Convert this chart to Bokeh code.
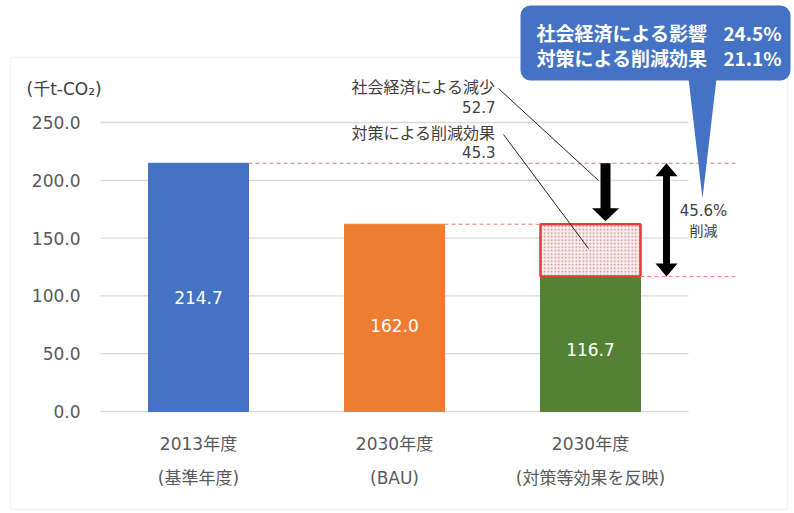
from bokeh.plotting import figure
from bokeh.models import Range1d, BoxAnnotation, PolyAnnotation, Arrow, Label, ColumnDataSource
from bokeh.core.properties import value
from bokeh.embed import file_html
from bokeh.resources import INLINE

# ---------------- data ----------------
category_years = ["2013年度", "2030年度", "2030年度"]
category_notes = ["(基準年度)", "(BAU)", "(対策等効果を反映)"]
emissions = [214.7, 162.0, 116.7]
bar_labels = ["214.7", "162.0", "116.7"]
bar_colors = ["#4472C4", "#ED7D31", "#548235"]
y_ticks = [0, 50, 100, 150, 200, 250]
y_tick_labels = ["0.0", "50.0", "100.0", "150.0", "200.0", "250.0"]
socio_label = "社会経済による減少"
socio_value = "52.7"
measure_label = "対策による削減効果"
measure_value = "45.3"
callout_lines = ["社会経済による影響", "対策による削減効果"]
callout_pcts = ["24.5%", "21.1%"]
total_cut_pct = "45.6%"
total_cut_word = "削減"
unit_label = "(千t-CO₂)"

# ---------------- geometry helpers (page pixels -> data) ----------------
W, H = 794, 513
PX_X0, PX_PER_X = 100, 196.0      # page x of data x=0, pixels per category
PY0, PX_PER_Y = 411, 289 / 250.0  # page y of value 0, pixels per unit


def px2x(px):
    return (px - PX_X0) / PX_PER_X


def py2y(py):
    return (PY0 - py) / PX_PER_Y


def dx(px):
    return px / PX_PER_X


def dy(px):
    return px / PX_PER_Y


JP = "Noto Sans CJK JP"
LAT = "DejaVu Sans"
MIX = "DejaVu Sans, Noto Sans CJK JP"
GRAY = "#595959"
DARK = "#404040"

p = figure(width=W, height=H, output_backend="svg", toolbar_location=None,
           x_range=Range1d(px2x(0), px2x(W)), y_range=Range1d(py2y(H), py2y(0)),
           min_border=0)
p.outline_line_color = None
p.background_fill_color = "white"
p.border_fill_color = "white"
p.xaxis.visible = False
p.yaxis.visible = False
p.grid.visible = False

n = len(emissions)
xs = [i + 0.5 for i in range(n)]
BAR_W = 100 / PX_PER_X

# outer chart border
p.add_layout(BoxAnnotation(left=px2x(10), right=px2x(787), top=py2y(57), bottom=py2y(509),
                           fill_color=None, line_color="#d9d9d9", line_width=1.5))

# horizontal grid lines and y tick labels
p.segment(x0=[0] * len(y_ticks), x1=[n] * len(y_ticks), y0=y_ticks, y1=y_ticks,
          line_color="#d9d9d9", line_width=1.3)
p.text(x=[-dx(20)] * len(y_ticks), y=y_ticks, text=y_tick_labels, text_align="right",
       text_baseline="middle", text_color=GRAY, text_font=value(LAT), text_font_size="17px")

# category labels
p.text(x=xs, y=[-dy(32)] * n, text=category_years, text_align="center", text_baseline="middle",
       text_color=GRAY, text_font=value(MIX), text_font_size="17px")
p.text(x=xs, y=[-dy(66)] * n, text=category_notes, text_align="center", text_baseline="middle",
       text_color=GRAY, text_font=value(MIX), text_font_size="17px")

# bars
src = ColumnDataSource(dict(x=xs, top=emissions, color=bar_colors, label=bar_labels,
                            ly=[v * 0.46 for v in emissions]))
p.vbar(x="x", top="top", width=BAR_W, color="color", source=src)

# stippled reduction box on the 2030 (measures) bar
p.quad(left=[xs[2] - BAR_W / 2], right=[xs[2] + BAR_W / 2], bottom=[emissions[2]], top=[emissions[1]],
       fill_color="#fbeeee", hatch_pattern="dot", hatch_color="#c98585", hatch_scale=3.5,
       hatch_weight=1, line_color="#e8383d", line_width=2.5)

# bar value labels
p.text(x="x", y="ly", text="label", source=src, text_color="white", text_align="center",
       text_baseline="middle", text_font=value(LAT), text_font_size="17px")

# red dashed reference lines
RED = "#ec7a7a"
dash_specs = [
    (xs[0] + BAR_W / 2, px2x(737), emissions[0]),
    (xs[1] + BAR_W / 2, xs[2] - BAR_W / 2, emissions[1]),
    (xs[2] + BAR_W / 2, px2x(737), emissions[2]),
]
for x0, x1, yv in dash_specs:
    p.add_layout(Arrow(x_start=x0, y_start=yv, x_end=x1, y_end=yv, end=None,
                       line_color=RED, line_width=1, line_dash="4 3"))

# leader lines
p.add_layout(Arrow(x_start=px2x(498), y_start=py2y(88), x_end=px2x(598), y_end=py2y(180),
                   end=None, line_color="#222222", line_width=1))
p.add_layout(Arrow(x_start=px2x(503), y_start=py2y(134), x_end=px2x(588), y_end=py2y(248),
                   end=None, line_color="#222222", line_width=1))

# thick down arrow (socio-economic reduction)
cx = px2x(605)
top = emissions[0]
tip = emissions[1] + dy(3)
hb = tip + dy(13)
sw, hw = dx(5), dx(13.5)
p.add_layout(PolyAnnotation(xs=[cx - sw, cx + sw, cx + sw, cx + hw, cx, cx - hw, cx - sw],
                            ys=[top, top, hb, hb, tip, hb, hb],
                            fill_color="black", fill_alpha=1, line_color=None))

# double arrow (total reduction)
cx2 = px2x(666)
yt, yb = emissions[0], emissions[2]
h2 = dy(13)
sw2, hw2 = dx(3.5), dx(11)
p.add_layout(PolyAnnotation(
    xs=[cx2, cx2 + hw2, cx2 + sw2, cx2 + sw2, cx2 + hw2, cx2, cx2 - hw2, cx2 - sw2, cx2 - sw2, cx2 - hw2],
    ys=[yt, yt - h2, yt - h2, yb + h2, yb + h2, yb, yb + h2, yb + h2, yt - h2, yt - h2],
    fill_color="black", fill_alpha=1, line_color=None))


# annotation texts
def lab(x, y, text, font, size, color=DARK, align="left", bold=False):
    p.add_layout(Label(x=x, y=y, text=text, text_font=font, text_font_size=size,
                       text_color=color, text_align=align, text_baseline="middle",
                       text_font_style="bold" if bold else "normal"))


lab(px2x(26), py2y(88), unit_label, MIX, "17px", color=DARK)
lab(px2x(495), py2y(85), socio_label, JP, "16px", align="right")
lab(px2x(495), py2y(106), socio_value, LAT, "15px", align="right")
lab(px2x(495), py2y(131), measure_label, JP, "16px", align="right")
lab(px2x(495), py2y(151), measure_value, LAT, "15px", align="right")
lab(px2x(703), py2y(210), total_cut_pct, LAT, "15px", align="center")
lab(px2x(703), py2y(229), total_cut_word, JP, "14px", align="center")

# callout bubble
BLUE = "#4472C4"
p.add_layout(BoxAnnotation(left=px2x(520), right=px2x(790), top=py2y(5), bottom=py2y(80),
                           fill_color=BLUE, fill_alpha=1, line_color=None, border_radius=10))
p.add_layout(PolyAnnotation(xs=[px2x(688), px2x(716), px2x(702)], ys=[py2y(78), py2y(78), py2y(198)],
                            fill_color=BLUE, fill_alpha=1, line_color=None))
for i, (t, pc) in enumerate(zip(callout_lines, callout_pcts)):
    yy = py2y(32 + 25 * i)
    lab(px2x(536), yy, t, JP, "19px", color="white", bold=True)
    lab(px2x(781), yy, pc, JP, "19px", color="white", align="right", bold=True)

open("out.html", "w").write(file_html(p, INLINE))
